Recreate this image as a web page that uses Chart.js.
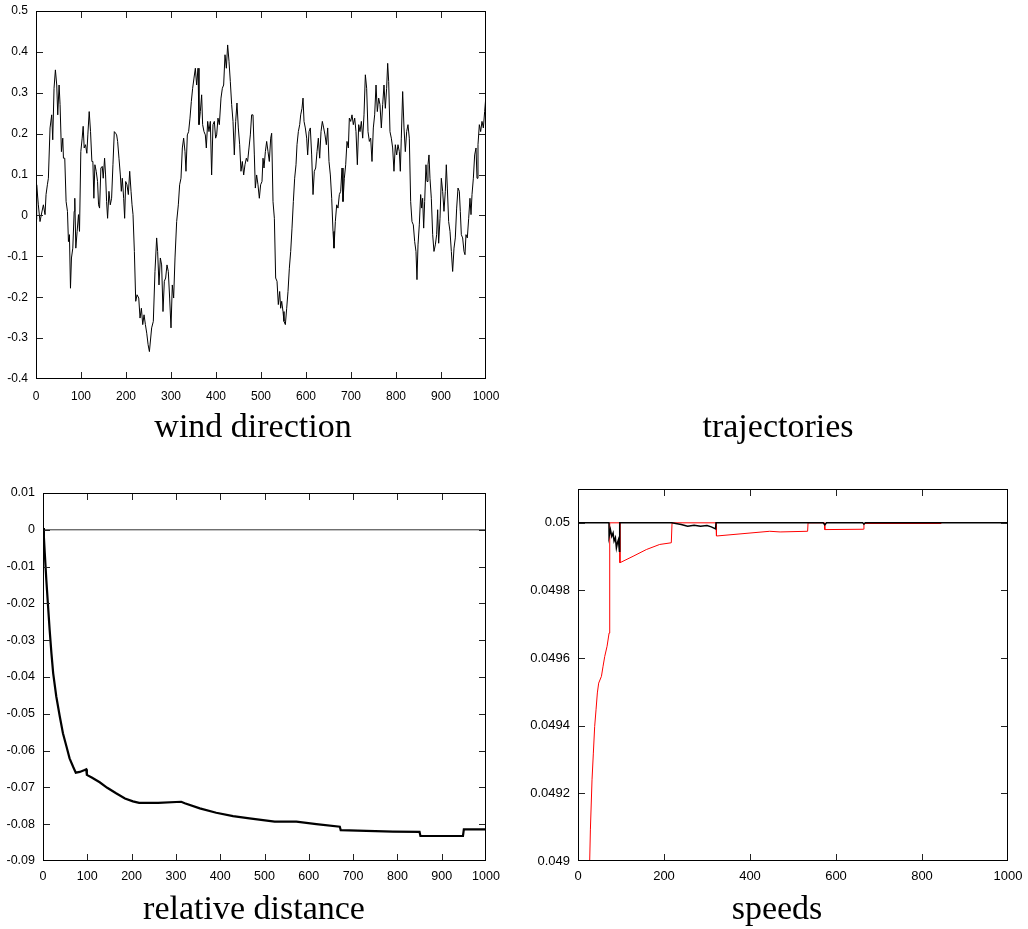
<!DOCTYPE html>
<html>
<head>
<meta charset="utf-8">
<script src="https://cdn.jsdelivr.net/npm/chart.js@4.4.1/dist/chart.umd.min.js"></script>
<style>
  html, body { margin: 0; padding: 0; background: #fff; }
  #wrap { position: relative; width: 1028px; height: 929px; overflow: hidden; background: #fff; }
  canvas { position: absolute; }
  .ttl { position: absolute; width: 400px; text-align: center; font: 34px "Liberation Serif", "Times New Roman", serif; line-height: 34px; color: #000; white-space: nowrap; }
</style>
</head>
<body>
<div id="wrap">
  <canvas id="c1" width="514" height="410" style="left:0px;top:0px"></canvas>
  <canvas id="c3" width="514" height="420" style="left:0px;top:470px"></canvas>
  <canvas id="c4" width="514" height="420" style="left:514px;top:470px"></canvas>
  <div class="ttl" style="left:53px;top:409px">wind direction</div>
  <div class="ttl" style="left:578px;top:409px">trajectories</div>
  <div class="ttl" style="left:54px;top:891px">relative distance</div>
  <div class="ttl" style="left:577px;top:891px">speeds</div>
</div>
<script>
// ---------------- wind direction ----------------
const windStep = [
  0, 1.5, 5.2, 8.9, 12.6, 16.4, 20.1, 22.3, 25.3, 27.5,
  31.2, 34.9, 37.2, 40.1, 43.1, 46.1, 48.3, 51.3, 53.5, 56.5,
  59.5, 61.0, 63.9, 66.9, 69.9, 72.1, 74.3, 76.6, 78.8, 81.8,
  84.8, 86.2, 88.5, 91.4, 94.4, 96.7, 99.6, 102.6, 104.8, 107.1,
  110.0, 113.0, 115.2, 118.2, 121.2, 124.2, 126.4, 128.6, 130.9, 133.8,
  136.8, 139.0, 141.3, 144.2, 147.2, 149.4, 152.4, 154.6, 156.9, 159.1,
  162.1, 165.1, 168.0, 171.0, 174.0, 177.0, 179.2, 181.4, 184.4, 187.4,
  189.6, 191.8, 194.8, 197.0, 199.3, 202.2, 205.2, 208.2, 211.2, 213.4,
  215.6, 218.6, 221.6, 224.5, 228.3, 231.2, 234.2, 237.2, 240.1, 243.1,
  246.1, 249.1, 252.0,
  257.0, 260.7, 264.4, 268.1, 270.3, 273.3, 276.3, 279.2, 282.2, 285.2,
  288.1, 291.1, 294.0, 297.0, 300.0, 302.9, 305.9, 308.9, 312.6, 316.3,
  319.2, 322.2, 325.2, 328.1, 331.1, 333.3, 336.3, 339.2, 342.2, 345.2,
  348.1, 351.1, 354.1, 357.0, 360.0, 362.2, 365.2, 368.1, 370.3, 373.3,
  376.3, 378.5, 381.5, 384.4, 387.4, 390.3, 393.3, 396.3, 399.2, 401.5,
  404.4, 407.4, 411.1, 414.1, 417.0, 420.0, 423.0, 425.9, 428.9, 431.8,
  434.8, 437.8, 440.7, 443.7, 446.6, 449.6, 452.6, 455.5, 458.5, 461.5,
  464.4, 467.4, 470.3, 473.3, 476.3, 479.2, 482.2, 485.2, 487.4, 490.3,
  493.3, 496.3, 499.2, 502.2,
  504.5, 506.7, 509.7, 512.6, 515.6, 518.5, 521.5, 523.7, 526.7, 529.7,
  532.6, 535.6, 538.5, 541.5, 543.7, 546.0, 548.9, 551.1, 554.1, 557.1,
  560.0, 563.0, 566.0, 568.9, 571.9, 574.8, 577.8, 580.0, 583.0, 586.0,
  588.2, 591.1, 593.4, 595.6, 598.5, 601.5, 603.7, 606.7, 609.6, 612.6,
  615.6, 618.5, 621.5, 624.5, 627.4, 630.4, 633.4, 636.3, 639.3, 642.2,
  645.2, 648.2, 651.1, 654.1, 657.1, 660.0, 662.2, 665.2, 668.2, 671.1,
  674.1, 677.1, 680.0, 682.2, 685.2, 688.2, 691.1, 694.1, 696.3, 699.3,
  702.2, 705.2, 708.2, 711.1, 714.1, 717.1, 720.0, 723.0, 726.0, 728.9,
  731.9, 734.8, 737.8, 740.8, 743.7, 746.7, 749.6, 752.6, 755.6, 758.5,
  761.5, 764.4, 767.4, 770.4, 773.3,
  776.3, 779.2, 781.5, 783.7, 786.6, 789.6, 792.6, 795.5, 798.5, 801.5,
  804.4, 807.4, 809.6, 811.8, 814.8, 817.8, 820.7, 823.7, 826.6, 829.6,
  832.6, 835.5, 838.5, 841.5, 844.4, 846.6, 848.9, 851.8, 854.8, 857.0,
  859.2, 861.5, 863.7, 866.6, 868.9, 871.1, 873.3, 875.5, 878.5, 881.5,
  884.4, 887.4, 890.3, 892.6, 894.8, 897.8, 900.7, 903.7, 906.6, 909.6,
  911.8, 914.1, 917.0, 920.0, 923.0, 925.9, 928.9, 931.8, 934.8, 937.8,
  940.7, 942.9, 945.2, 948.1, 951.1, 953.3, 955.5, 958.5, 961.5, 964.4,
  966.7, 968.9, 971.9, 974.8, 977.8, 980.0, 982.2, 985.2, 988.1, 991.1,
  994.1, 997.0, 1000.0
];
const windDir = [
  -0.010, 0.075, 0.026, -0.015, 0.006, 0.026, 0.002, 0.051, 0.075, 0.091,
  0.214, 0.246, 0.185, 0.311, 0.356, 0.319, 0.246, 0.319, 0.271, 0.156,
  0.189, 0.140, 0.140, 0.034, 0.010, -0.064, -0.047, -0.178, -0.104, -0.080,
  0.010, 0.042, -0.080, -0.039, 0.002, -0.039, 0.156, 0.189, 0.218, 0.165,
  0.173, 0.152, 0.197, 0.254, 0.205, 0.132, 0.132, 0.042, 0.124, 0.108,
  0.083, 0.026, 0.018, 0.116, 0.120, 0.091, 0.140, 0.099, 0.034, -0.007,
  0.059, 0.026, 0.042, 0.124, 0.205, 0.201, 0.197, 0.181, 0.140, 0.099,
  0.059, 0.091, 0.042, -0.007, 0.083, 0.075, 0.051, 0.108, 0.059, 0.026,
  0.002, -0.088, -0.210, -0.194, -0.202, -0.251, -0.227, -0.267, -0.243, -0.267,
  -0.288, -0.316, -0.333,
  -0.275, -0.259, -0.137, -0.055, -0.088, -0.170, -0.104, -0.121, -0.235, -0.161,
  -0.153, -0.121, -0.137, -0.202, -0.275, -0.170, -0.202, -0.104, -0.015, 0.026,
  0.075, 0.091, 0.165, 0.189, 0.156, 0.108, 0.197, 0.205, 0.238, 0.279,
  0.311, 0.336, 0.360, 0.319, 0.360, 0.222, 0.254, 0.295, 0.222, 0.205,
  0.197, 0.165, 0.230, 0.205, 0.230, 0.099, 0.222, 0.230, 0.189, 0.197,
  0.238, 0.222, 0.287, 0.311, 0.319, 0.393, 0.360, 0.417, 0.377, 0.328,
  0.271, 0.230, 0.148, 0.230, 0.275, 0.214, 0.173, 0.108, 0.132, 0.099,
  0.124, 0.140, 0.132, 0.165, 0.197, 0.246, 0.246, 0.148, 0.067, 0.099,
  0.075, 0.042, 0.075, 0.083,
  0.140, 0.116, 0.156, 0.181, 0.156, 0.132, 0.189, 0.201, 0.034, -0.007,
  -0.153, -0.161, -0.218, -0.186, -0.227, -0.210, -0.235, -0.259, -0.267, -0.227,
  -0.186, -0.129, -0.088, -0.031, 0.034, 0.091, 0.124, 0.173, 0.205, 0.222,
  0.246, 0.262, 0.287, 0.230, 0.214, 0.189, 0.148, 0.205, 0.214, 0.148,
  0.051, 0.108, 0.116, 0.156, 0.189, 0.140, 0.205, 0.230, 0.214, 0.197,
  0.173, 0.214, 0.132, 0.099, 0.042, -0.039, -0.080, -0.015, 0.026, 0.018,
  0.051, 0.059, 0.116, 0.034, 0.091, 0.124, 0.181, 0.165, 0.238, 0.230,
  0.246, 0.222, 0.238, 0.205, 0.124, 0.222, 0.205, 0.230, 0.189, 0.246,
  0.344, 0.311, 0.205, 0.181, 0.189, 0.132, 0.214, 0.246, 0.319, 0.254,
  0.287, 0.271, 0.214, 0.271, 0.319,
  0.262, 0.311, 0.372, 0.328, 0.205, 0.189, 0.165, 0.108, 0.173, 0.148,
  0.173, 0.156, 0.108, 0.189, 0.303, 0.214, 0.156, 0.205, 0.222, 0.189,
  0.034, -0.015, -0.023, -0.064, -0.088, -0.157, -0.072, -0.023, 0.051, 0.018,
  0.042, -0.031, 0.034, 0.124, 0.083, 0.124, 0.148, 0.091, 0.042, -0.047,
  -0.088, -0.072, -0.047, 0.014, -0.068, -0.007, 0.091, 0.059, 0.010, 0.059,
  0.124, 0.067, -0.015, -0.039, -0.088, -0.137, -0.080, -0.055, 0.018, 0.067,
  0.059, 0.010, -0.047, -0.055, -0.088, -0.096, -0.047, -0.055, -0.007, 0.042,
  0.002, 0.051, 0.091, 0.148, 0.165, 0.091, 0.173, 0.222, 0.205, 0.230,
  0.214, 0.254, 0.295
];
const windXTicks = [0, 100, 200, 300, 400, 500, 600, 700, 800, 900, 1000];
const windXLabels = ['0', '100', '200', '300', '400', '500', '600', '700', '800', '900', '1000'];
const windYTicks = [-0.4, -0.3, -0.2, -0.1, 0, 0.1, 0.2, 0.3, 0.4, 0.5];
const windYLabels = ['-0.4', '-0.3', '-0.2', '-0.1', '0', '0.1', '0.2', '0.3', '0.4', '0.5'];

// ---------------- relative distance ----------------
const distStep = [
  0, 2, 4, 7.5, 11, 15, 19, 23, 30, 38, 45, 53, 60, 68, 74, 83, 94, 97.5, 99,
  110, 128, 145, 165, 185, 203, 217, 260, 312, 320, 354, 391, 429, 466, 523, 572, 617, 670, 672,
  730, 790, 850, 852, 948, 950, 1000
];
const relDistance = [
  0.0005, -0.002, -0.0063, -0.0136, -0.020, -0.0272, -0.0335, -0.039, -0.0453, -0.0508,
  -0.0553, -0.0589, -0.0621, -0.0644, -0.066, -0.0658, -0.0653, -0.0651, -0.0666,
  -0.0673, -0.0686, -0.0701, -0.0716, -0.0730, -0.0738, -0.0742, -0.0742, -0.0739, -0.0743,
  -0.0757, -0.0769, -0.0778, -0.0784, -0.0793, -0.0793, -0.0800, -0.0807, -0.0816,
  -0.0818, -0.0820, -0.0821, -0.0832, -0.0832, -0.0814, -0.0814
];
const refStep = [0, 1000];
const refDistance = [0, 0];
const distXTicks = [0, 100, 200, 300, 400, 500, 600, 700, 800, 900, 1000];
const distXLabels = ['0', '100', '200', '300', '400', '500', '600', '700', '800', '900', '1000'];
const distYTicks = [-0.09, -0.08, -0.07, -0.06, -0.05, -0.04, -0.03, -0.02, -0.01, 0, 0.01];
const distYLabels = ['-0.09', '-0.08', '-0.07', '-0.06', '-0.05', '-0.04', '-0.03', '-0.02', '-0.01', '0', '0.01'];

// ---------------- speeds ----------------
const speedBlackStep = [
  0, 0.5, 72, 72.3, 75.4, 78.5, 81.6, 83.9, 87, 89.3, 91.7, 94, 96.3, 97,
  218, 240, 255, 270, 285, 300, 310, 320, 321, 570, 574, 578, 662, 665, 668, 1000
];
const speedBlack = [
  0.0487, 0.05, 0.05, 0.04996, 0.04998, 0.04996, 0.04997, 0.049946, 0.049956, 0.049926, 0.049941, 0.04995, 0.049916, 0.05,
  0.05, 0.049995, 0.04999, 0.049993, 0.04999, 0.049992, 0.049988, 0.049982, 0.05, 0.05, 0.049994, 0.05, 0.05, 0.049996, 0.05, 0.05
];
const speedRedStep = [
  24, 27.2, 28.8, 32.6, 35.7, 38.8, 41.9, 45, 48.1, 54.5, 58.3, 62.2, 67.6, 72.3, 73.8,
  97, 97.5, 128, 159, 190, 217, 218.7, 321, 322, 446, 470, 534, 535, 573, 574, 664, 665, 845
];
const speedRed = [
  0.0489, 0.049, 0.049092, 0.04924, 0.049319, 0.049398, 0.049447, 0.049497, 0.049526, 0.049546, 0.049576, 0.049605, 0.049635, 0.049674, 0.05,
  0.05, 0.049882, 0.049901, 0.049921, 0.049936, 0.049941, 0.05, 0.05, 0.049961, 0.049975, 0.049973, 0.049975, 0.05, 0.05, 0.04998, 0.049981, 0.049998, 0.049998
];
const speedXTicks = [0, 200, 400, 600, 800, 1000];
const speedXLabels = ['0', '200', '400', '600', '800', '1000'];
const speedYTicks = [0.049, 0.0492, 0.0494, 0.0496, 0.0498, 0.05];
const speedYLabels = ['0.049', '0.0492', '0.0494', '0.0496', '0.0498', '0.05'];

// ---------------- helpers ----------------
function pts(xs, ys) {
  const n = Math.min(xs.length, ys.length);
  if (xs.length !== ys.length) console.warn('length mismatch', xs.length, ys.length);
  const out = [];
  for (let i = 0; i < n; i++) out.push({ x: xs[i], y: ys[i] });
  return out;
}

const inwardTicks = {
  id: 'inwardTicks',
  afterDraw(chart, args, opts) {
    const { ctx, chartArea: a, scales } = chart;
    const L = opts.len || 7;
    ctx.save();
    ctx.lineWidth = 1;
    ctx.strokeStyle = opts.tickColor || '#222';
    ctx.beginPath();
    const l = Math.round(a.left), r = Math.round(a.right), t = Math.round(a.top), b = Math.round(a.bottom);
    scales.x.ticks.forEach(tk => {
      const px = Math.round(scales.x.getPixelForValue(tk.value)) + 0.5;
      if (px < l + 1 || px > r - 1) return;
      ctx.moveTo(px, b); ctx.lineTo(px, b - L);
      ctx.moveTo(px, t); ctx.lineTo(px, t + L);
    });
    scales.y.ticks.forEach(tk => {
      const py = Math.round(scales.y.getPixelForValue(tk.value)) + 0.5;
      if (py < t + 1 || py > b - 1) return;
      ctx.moveTo(l, py); ctx.lineTo(l + L, py);
      ctx.moveTo(r, py); ctx.lineTo(r - L, py);
    });
    ctx.stroke();
    ctx.strokeStyle = '#000';
    ctx.lineWidth = opts.frameWidth || 1;
    ctx.strokeRect(l + 0.5, t + 0.5, r - l - 1, b - t - 1);
    ctx.restore();
  }
};

function axis(kind, min, max, tickVals, tickLabels, size, font, pad) {
  return {
    type: 'linear',
    min: min, max: max,
    grid: { display: false, drawTicks: false },
    border: { display: false },
    afterBuildTicks: s => { s.ticks = tickVals.map(v => ({ value: v })); },
    afterFit: s => {
      if (kind === 'x') s.height = size; else s.width = size;
      s.paddingLeft = 0; s.paddingRight = 0; s.paddingTop = 0; s.paddingBottom = 0;
    },
    ticks: {
      autoSkip: false, maxRotation: 0, minRotation: 0,
      padding: pad,
      color: '#000',
      font: { family: '"Liberation Sans", Arial, sans-serif', size: font },
      callback: (v, i) => tickLabels[i]
    }
  };
}

function baseOptions(pad, xAx, yAx, tickLen) {
  return {
    responsive: false,
    animation: false,
    devicePixelRatio: 1,
    layout: { padding: pad },
    plugins: { legend: { display: false }, tooltip: { enabled: false }, title: { display: false }, inwardTicks: { len: tickLen } },
    elements: { point: { radius: 0 }, line: { tension: 0 } },
    scales: { x: xAx, y: yAx }
  };
}

// Panel 1: wind direction
new Chart(document.getElementById('c1'), {
  type: 'line',
  data: {
    datasets: [{
      data: pts(windStep, windDir),
      borderColor: '#000', borderWidth: 1, fill: false, pointRadius: 0
    }]
  },
  options: baseOptions(
    { left: 0, top: 11, right: 28, bottom: 0 },
    axis('x', 0, 1000, windXTicks, windXLabels, 31, 12, 10),
    axis('y', -0.4, 0.5, windYTicks, windYLabels, 36, 12, 8),
    7
  ),
  plugins: [inwardTicks]
});

// Panel 3: relative distance
new Chart(document.getElementById('c3'), {
  type: 'line',
  data: {
    datasets: [
      { data: pts(distStep, relDistance), borderColor: '#000', borderWidth: 2.2, fill: false, pointRadius: 0 },
      { data: pts(refStep, refDistance), borderColor: '#333', borderWidth: 1, fill: false, pointRadius: 0 }
    ]
  },
  options: baseOptions(
    { left: 0, top: 23, right: 28, bottom: 0 },
    axis('x', 0, 1000, distXTicks, distXLabels, 29, 12.5, 8),
    axis('y', -0.09, 0.01, distYTicks, distYLabels, 43, 12.5, 8),
    7
  ),
  plugins: [inwardTicks]
});

// Panel 4: speeds
new Chart(document.getElementById('c4'), {
  type: 'line',
  data: {
    datasets: [
      { data: pts(speedBlackStep, speedBlack), borderColor: '#000', borderWidth: 1.5, fill: false, pointRadius: 0 },
      { data: pts(speedRedStep, speedRed), borderColor: '#ff0000', borderWidth: 1, fill: false, pointRadius: 0 }
    ]
  },
  options: baseOptions(
    { left: 0, top: 19, right: 20, bottom: 0 },
    axis('x', 0, 1000, speedXTicks, speedXLabels, 29, 13, 8),
    axis('y', 0.049, 0.0501, speedYTicks, speedYLabels, 64, 13, 8),
    7
  ),
  plugins: [inwardTicks]
});
</script>
</body>
</html>
